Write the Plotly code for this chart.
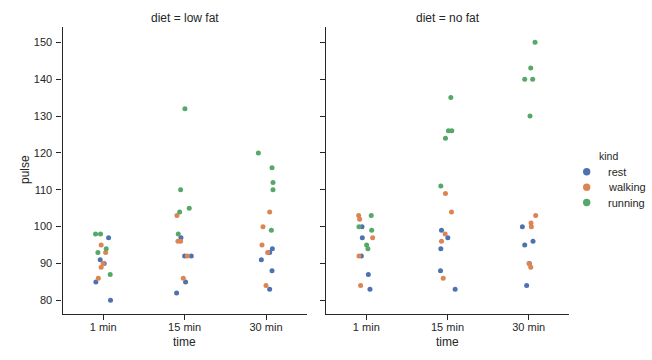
import plotly.graph_objects as go

times = ["1 min", "15 min", "30 min"]
kinds = ["rest", "walking", "running"]
diets = ["low fat", "no fat"]
colors = {"rest": "#4C72B0", "walking": "#DD8452", "running": "#55A868"}
y_ticks = [80, 90, 100, 110, 120, 130, 140, 150]

# pulse per subject (5 subjects), grouped by time: 1 min, 15 min, 30 min
low_fat_rest_pulse = [85, 90, 97, 80, 91, 85, 92, 97, 82, 92, 88, 93, 94, 83, 91]
low_fat_walking_pulse = [86, 93, 90, 95, 89, 86, 103, 92, 96, 96, 84, 104, 93, 100, 95]
low_fat_running_pulse = [93, 98, 98, 87, 94, 98, 104, 105, 132, 110, 110, 112, 99, 120, 116]
no_fat_rest_pulse = [83, 87, 92, 97, 100, 83, 88, 94, 99, 97, 84, 90, 95, 96, 100]
no_fat_walking_pulse = [84, 103, 92, 97, 102, 86, 109, 96, 98, 104, 89, 90, 101, 100, 103]
no_fat_running_pulse = [95, 100, 103, 94, 99, 126, 126, 124, 135, 111, 143, 140, 140, 130, 150]

# strip jitter offsets (category units)
low_fat_rest_jitter = [-0.09, 0.012, 0.066, 0.09, -0.037, 0.012, 0.0, -0.045, -0.098, 0.082, 0.074, 0.045, 0.078, 0.045, -0.057]
low_fat_walking_jitter = [-0.06, 0.03, 0.0, -0.025, -0.025, -0.016, -0.094, 0.033, -0.082, -0.049, 0.0, 0.045, 0.02, -0.037, -0.049]
low_fat_running_jitter = [-0.065, -0.094, -0.033, 0.086, 0.037, -0.078, -0.061, 0.057, 0.004, -0.049, 0.086, 0.086, 0.066, -0.094, 0.074]
no_fat_rest_jitter = [0.045, 0.025, -0.061, -0.049, -0.053, 0.094, -0.086, -0.082, -0.074, 0.004, -0.025, 0.008, -0.049, 0.053, -0.078]
no_fat_walking_jitter = [-0.07, -0.094, -0.09, 0.078, -0.082, -0.053, -0.025, -0.074, -0.029, 0.049, 0.025, 0.004, 0.029, 0.033, 0.086]
no_fat_running_jitter = [0.004, -0.09, 0.061, 0.02, 0.066, 0.012, 0.053, -0.025, 0.041, -0.082, 0.025, -0.049, 0.049, 0.016, 0.078]

series = {
    ("low fat", "rest"): (low_fat_rest_pulse, low_fat_rest_jitter),
    ("low fat", "walking"): (low_fat_walking_pulse, low_fat_walking_jitter),
    ("low fat", "running"): (low_fat_running_pulse, low_fat_running_jitter),
    ("no fat", "rest"): (no_fat_rest_pulse, no_fat_rest_jitter),
    ("no fat", "walking"): (no_fat_walking_pulse, no_fat_walking_jitter),
    ("no fat", "running"): (no_fat_running_pulse, no_fat_running_jitter),
}

FONT = "Liberation Sans, Arial, sans-serif"
TXT = "#262626"
W, H = 652, 360

fig = go.Figure()
for di, diet in enumerate(diets):
    xa = "x" if di == 0 else "x2"
    ya = "y" if di == 0 else "y2"
    for kind in kinds:
        pulse, jit = series[(diet, kind)]
        xs = [i // 5 + jit[i] for i in range(len(pulse))]
        fig.add_trace(go.Scatter(
            x=xs, y=pulse, mode="markers", xaxis=xa, yaxis=ya,
            marker=dict(size=5, color=colors[kind], line=dict(width=0)),
            showlegend=False, name=kind, hoverinfo="skip"))

xdom1 = [62.5 / W, 306.7 / W]
xdom2 = [325.7 / W, 569.3 / W]
ydom = [1 - 314 / H, 1 - 27 / H]

common_x = dict(range=[-0.5, 2.5], tickvals=[0, 1, 2], ticktext=times,
                showline=True, linecolor=TXT, linewidth=1.25, ticks="outside",
                ticklen=5, tickwidth=1.25, tickcolor=TXT, showgrid=False,
                ticklabelstandoff=-2,
                zeroline=False, tickfont=dict(family=FONT, size=11, color=TXT))
common_y = dict(range=[76.3, 154.15], tickvals=y_ticks,
                showline=True, linecolor=TXT, linewidth=1.25, ticks="outside",
                ticklen=5, tickwidth=1.25, tickcolor=TXT, showgrid=False,
                ticklabelstandoff=2,
                zeroline=False, tickfont=dict(family=FONT, size=11, color=TXT))

fig.update_layout(
    width=W, height=H,
    margin=dict(l=0, r=0, t=0, b=0),
    paper_bgcolor="white", plot_bgcolor="white",
    xaxis=dict(domain=xdom1, anchor="y", **common_x),
    xaxis2=dict(domain=xdom2, anchor="y2", **common_x),
    yaxis=dict(domain=ydom, anchor="x", **common_y),
    yaxis2=dict(domain=ydom, anchor="x2", showticklabels=False, **common_y),
    showlegend=False,
    font=dict(family=FONT, color=TXT),
)

annos = [
    dict(text="diet = low fat", x=(xdom1[0] + xdom1[1]) / 2, y=1 - 17.5 / H),
    dict(text="diet = no fat", x=(xdom2[0] + xdom2[1]) / 2, y=1 - 17.5 / H),
    dict(text="time", x=(xdom1[0] + xdom1[1]) / 2, y=1 - 341.5 / H),
    dict(text="time", x=(xdom2[0] + xdom2[1]) / 2, y=1 - 341.5 / H),
]
for a in annos:
    fig.add_annotation(xref="paper", yref="paper", showarrow=False,
                       xanchor="center", yanchor="middle",
                       font=dict(family=FONT, size=12, color=TXT), **a)
fig.add_annotation(text="pulse", xref="paper", yref="paper", x=25 / W, y=1 - 170 / H,
                   textangle=-90, showarrow=False, xanchor="center", yanchor="middle",
                   font=dict(family=FONT, size=12, color=TXT))

# legend (seaborn-style, placed to the right of the facets)
fig.add_annotation(text="kind", xref="paper", yref="paper", x=608.5 / W, y=1 - 156 / H,
                   showarrow=False, xanchor="center", yanchor="middle",
                   font=dict(family=FONT, size=10.5, color=TXT))
leg_y = [171.8, 187.3, 202.5]
r = 3.7
for kind, yy in zip(kinds, leg_y):
    fig.add_shape(type="circle", xref="paper", yref="paper",
                  x0=(586.7 - r) / W, x1=(586.7 + r) / W,
                  y0=1 - (yy + r) / H, y1=1 - (yy - r) / H,
                  fillcolor=colors[kind], line=dict(width=0))
    fig.add_annotation(text=kind, xref="paper", yref="paper", x=606 / W, y=1 - yy / H,
                       showarrow=False, xanchor="left", yanchor="middle",
                       font=dict(family=FONT, size=11, color=TXT))

fig.write_html("out.html", config={"displayModeBar": False},
               post_script="document.body.style.margin='0';")
